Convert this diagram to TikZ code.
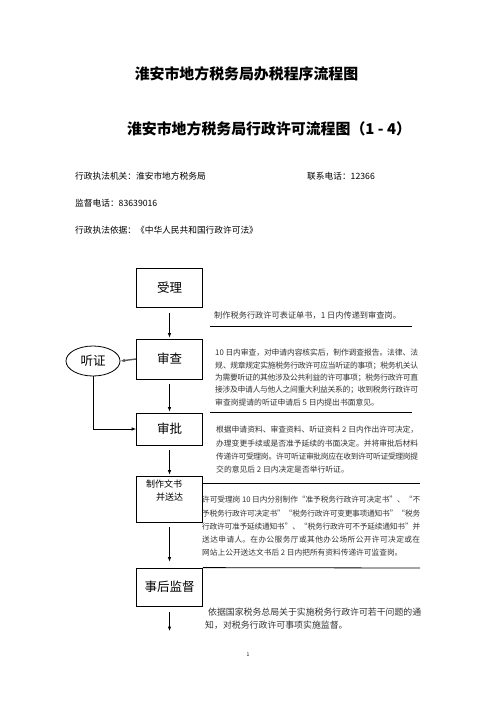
\documentclass[tikz,border=0pt]{standalone}
\usepackage{fontspec}
\setmainfont{Noto Sans CJK SC}
\XeTeXlinebreaklocale "zh"
\XeTeXlinebreakskip=0pt plus 2pt minus 0.7pt
\tolerance=3000
\hbadness=10000
\usetikzlibrary{arrows.meta,shapes.geometric}
\tikzset{
  box/.style={draw, line width=0.8pt, minimum width=66pt, inner sep=0pt, font=\fontsize{12.5}{14}\selectfont},
  flow/.style={anchor=north west, align=justify, inner sep=0pt, text=black!80},
  info/.style={anchor=west, inner sep=0pt, font=\fontsize{8.7}{10}\selectfont},
  ttl/.style={inner sep=0pt, font=\fontsize{14.9}{16}\selectfont\bfseries},
  arr/.style={-{Latex[length=4.5pt,width=3.6pt]}, line width=0.8pt},
  rulez/.style={line width=0.8pt}
}
\begin{document}
\begin{tikzpicture}[x=1pt,y=-1pt]
\useasboundingbox (0,0) rectangle (496,702);
% titles
\node[ttl] (t1) at (246.5,74) {淮安市地方税务局办税程序流程图};
\node[ttl] (t2) at (269,129) {淮安市地方税务局行政许可流程图（1 - 4）};
% info
\node[info] (i1) at (75,176) {行政执法机关：淮安市地方税务局};
\node[info] (i2) at (307,176) {联系电话：12366};
\node[info] (i3) at (75,203) {监督电话：83639016};
\node[info] (i4) at (75,230) {行政执法依据：《中华人民共和国行政许可法》};
% boxes
\node[box, minimum height=39pt] (sl) at (169.5,287.5) {受理};
\node[box, minimum height=40pt] (sc) at (169.5,359) {审查};
\node[box, minimum height=32pt] (sp) at (169.5,429) {审批};
\node[box, minimum height=46pt] (zz) at (169.5,499) {};
\node[anchor=north west, align=left, inner sep=0pt, font=\fontsize{9}{13}\selectfont] (zzt) at (146,480) {制作文书\\\hspace*{10pt}并送达};
\node[box, minimum height=38pt] (sh) at (169.5,587) {事后监督};
\node[draw, ellipse, line width=0.8pt, minimum width=54pt, minimum height=30pt, inner sep=0pt, font=\fontsize{12.5}{14}\selectfont] (tz) at (93,361) {听证};
% arrows
\draw[arr, shorten <=6pt, shorten >=1pt] (sl) -- (sc);
\draw[arr, shorten <=5pt, shorten >=1pt] (sc) -- (sp);
\draw[arr, shorten <=5pt, shorten >=1pt] (sp) -- (zz);
\draw[arr, shorten <=5pt, shorten >=6pt] (zz) -- (sh);
\coordinate (endp) at (169.5,631);
\draw[arr, shorten <=6pt] (sh.south) -- (endp);
\draw[arr, line width=1.4pt, black!65] (sc.west) -- (tz.east);
\draw[arr] (tz.south) |- (sp.west);
% texts
\node[flow, align=left, font=\fontsize{8.2}{12}\selectfont] (x1) at (214,311) {制作税务行政许可表证单书，1 日内传递到审查岗。};
\draw[rulez] (210,326) -- (412,326);
\node[flow, text width=203pt, font=\fontsize{7.8}{12.3}\selectfont] (x2) at (215,349) {10 日内审查，对申请内容核实后，制作调查报告。法律、法\linebreak 规、规章规定实施税务行政许可应当听证的事项；税务机关认\linebreak 为需要听证的其他涉及公共利益的许可事项；税务行政许可直\linebreak 接涉及申请人与他人之间重大利益关系的；收到税务行政许可\linebreak 审查岗提请的听证申请后 5 日内提出书面意见。};
\draw[rulez] (210,412) -- (412,412);
\node[flow, text width=202pt, font=\fontsize{7.8}{13.3}\selectfont] (x3) at (216,426) {根据申请资料、审查资料、听证资料 2 日内作出许可决定，\linebreak 办理变更手续或是否准予延续的书面决定。并将审批后材料\linebreak 传递许可受理岗。许可听证审批岗应在收到许可听证受理岗提\linebreak 交的意见后 2 日内决定是否举行听证。};
\coordinate (r3) at (420,483);
\draw[rulez] (zz.east |- r3) -- (r3);
\node[flow, text width=218pt, font=\fontsize{7.7}{13.3}\selectfont] (x4) at (202,496) {许可受理岗 10 日内分别制作“准予税务行政许可决定书”、“不\linebreak 予税务行政许可决定书”“税务行政许可变更事项通知书”“税务\linebreak 行政许可准予延续通知书”、“税务行政许可不予延续通知书”并\linebreak 送达申请人。在办公服务厅或其他办公场所公开许可决定或在\linebreak 网站上公开送达文书后 2 日内把所有资料传递许可监查岗。};
\coordinate (r4) at (420,568);
\draw[rulez] (sh.north east) -- (r4);
\node[flow, text width=216pt, font=\fontsize{8.9}{13}\selectfont] (x5) at (205,607.5) {\hspace*{3pt}依据国家税务总局关于实施税务行政许可若干问题的通\linebreak 知，对税务行政许可事项实施监督。};
\node[inner sep=0pt, font=\fontsize{5}{6}\selectfont] (pg) at (248,655) {1};
\end{tikzpicture}
\end{document}
